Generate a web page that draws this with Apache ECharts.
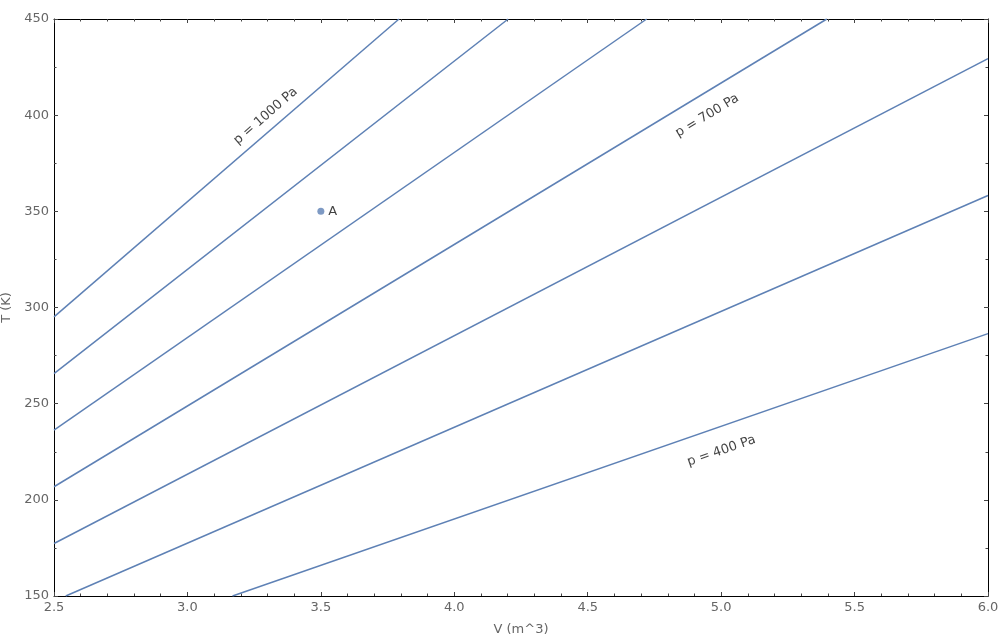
<!DOCTYPE html>
<html>
<head>
<meta charset="utf-8">
<script src="https://cdn.jsdelivr.net/npm/echarts@6/dist/echarts.min.js"></script>
<style>html,body{margin:0;padding:0;background:#fff}#c{width:1000px;height:640px}</style>
</head>
<body>
<div id="c"></div>
<script>
// Isobars: endpoints [V, T] (lines are straight)
const pressures = [1000, 900, 800, 700, 600, 500, 400];
const iso1000 = [[2.5, 295.1], [3.793, 450]];
const iso900  = [[2.5, 265.6], [4.202, 450]];
const iso800  = [[2.5, 236.2], [4.721, 450]];
const iso700  = [[2.5, 206.8], [5.396, 450]];
const iso600  = [[2.5, 177.3], [6.0, 429.4]];
const iso500  = [[2.544, 150], [6.0, 358.2]];
const iso400  = [[3.169, 150], [6.0, 286.4]];
const isoLines = [iso1000, iso900, iso800, iso700, iso600, iso500, iso400];

const pointA = [3.5, 350];
const pointName = 'A';

const lineLabels = ['p = 1000 Pa', 'p = 700 Pa', 'p = 400 Pa'];

const xMin = 2.5, xMax = 6.0, xStep = 0.5;
const yMin = 150, yMax = 450, yStep = 50;

const LINE = '#5E81B5';
const FONT = 'DejaVu Sans';

function xAxisCfg(pos, showLabel) {
  return {
    type: 'value', position: pos, min: xMin, max: xMax, interval: xStep,
    axisLine: {show: true, onZero: false, lineStyle: {color: '#000', width: 1}},
    axisTick: {show: true, inside: true, length: 4, lineStyle: {color: '#444'}},
    minorTick: {show: true, splitNumber: 5, length: 2.5, lineStyle: {color: '#444'}},
    splitLine: {show: false},
    axisLabel: {show: showLabel, color: '#666', fontFamily: FONT, fontSize: 13, margin: 5,
      formatter: v => v.toFixed(1)},
    name: showLabel ? 'V (m^3)' : '', nameLocation: 'middle', nameGap: 27,
    nameTextStyle: {color: '#666', fontFamily: FONT, fontSize: 13}
  };
}
function yAxisCfg(pos, showLabel) {
  return {
    type: 'value', position: pos, min: yMin, max: yMax, interval: yStep,
    axisLine: {show: true, onZero: false, lineStyle: {color: '#000', width: 1}},
    axisTick: {show: true, inside: true, length: 4, lineStyle: {color: '#444'}},
    minorTick: {show: true, splitNumber: 2, length: 2.5, lineStyle: {color: '#444'}},
    splitLine: {show: false},
    axisLabel: {show: showLabel, color: '#666', fontFamily: FONT, fontSize: 13, margin: 5},
    name: showLabel ? 'T (K)' : '', nameLocation: 'middle', nameGap: 40,
    nameTextStyle: {color: '#666', fontFamily: FONT, fontSize: 13}
  };
}

const series = isoLines.map((d, i) => ({
  name: 'p = ' + pressures[i] + ' Pa',
  type: 'line', data: d, showSymbol: false, symbol: 'none',
  lineStyle: {color: LINE, width: 1.5}, silent: true, clip: true, z: 2
}));

series.push({
  type: 'scatter', data: [pointA], symbolSize: 7,
  itemStyle: {color: LINE},
  label: {show: true, position: 'right', distance: 4, formatter: pointName,
    color: '#111', fontFamily: FONT, fontSize: 13},
  z: 3
});

const labelSpecs = [
  {text: lineLabels[0], at: [3.293, 399.5], rot: 41},
  {text: lineLabels[1], at: [4.948, 399.7], rot: 31},
  {text: lineLabels[2], at: [5.001, 225.4], rot: 19}
];
labelSpecs.forEach(s => {
  series.push({
    type: 'scatter', data: [s.at], symbolSize: 1, itemStyle: {color: 'rgba(0,0,0,0)'}, silent: true,
    label: {show: true, position: 'inside', formatter: s.text, rotate: s.rot,
      color: '#111', fontFamily: FONT, fontSize: 13},
    labelLayout: {hideOverlap: false},
    z: 4
  });
});

const chart = echarts.init(document.getElementById('c'), null, {renderer: 'canvas'});
chart.setOption({
  animation: false,
  backgroundColor: '#fff',
  grid: {left: 54, right: 12, top: 19, bottom: 44, containLabel: false, outerBoundsMode: 'none'},
  xAxis: [xAxisCfg('bottom', true), xAxisCfg('top', false)],
  yAxis: [yAxisCfg('left', true), yAxisCfg('right', false)],
  series: series
});
</script>
</body>
</html>
